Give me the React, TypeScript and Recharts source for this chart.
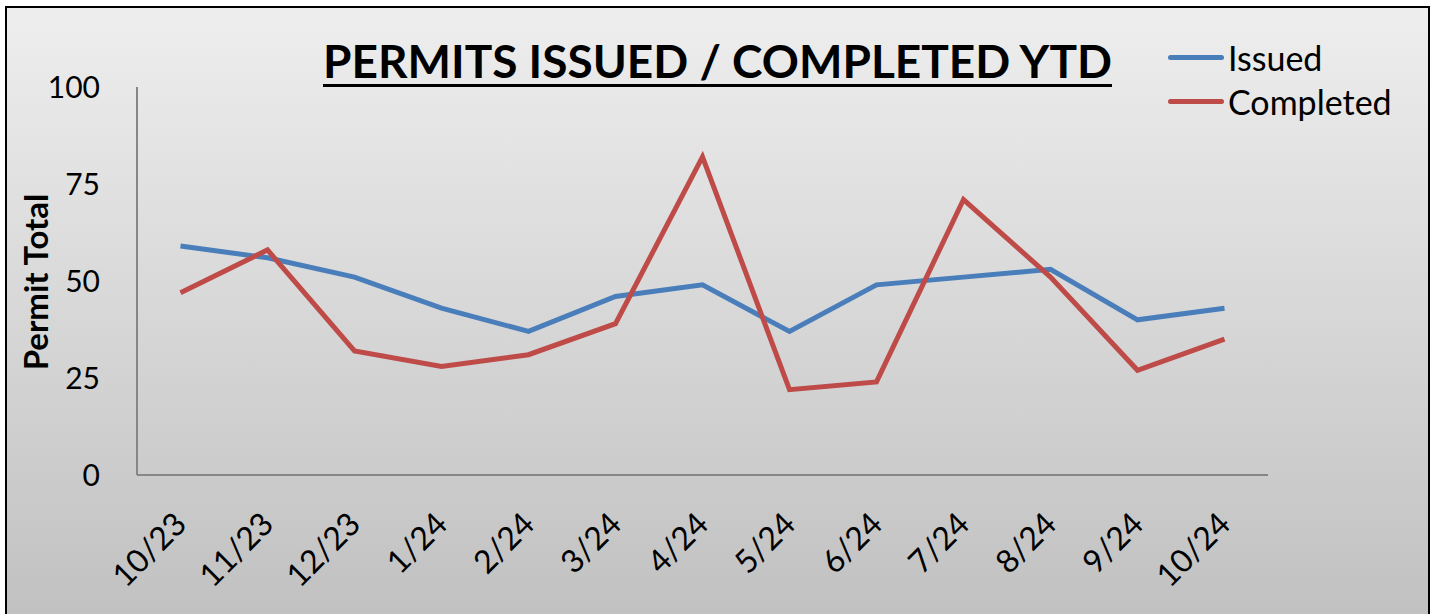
import { LineChart, Line, XAxis, YAxis } from "recharts";

const months = ["10/23", "11/23", "12/23", "1/24", "2/24", "3/24", "4/24", "5/24", "6/24", "7/24", "8/24", "9/24", "10/24"];
const issued = [59, 56, 51, 43, 37, 46, 49, 37, 49, 51, 53, 40, 43];
const completed = [47, 58, 32, 28, 31, 39, 82, 22, 24, 71, 51, 27, 35];
const yTicks = [0, 25, 50, 75, 100];

const data = months.map((m, i) => ({ month: m, Issued: issued[i], Completed: completed[i] }));

const FONT = "Lato, 'Open Sans', sans-serif";
const BLUE = "#4a7ebb";
const RED = "#be4b48";

const XTick = (props: any) => {
  const { x, y, payload } = props;
  const tx = x + 8;
  const ty = y + 49;
  return (
    <text x={tx} y={ty} transform={`rotate(-45 ${tx} ${ty})`} textAnchor="end" fontSize={32} fill="#000" fontFamily={FONT}>
      {payload.value}
    </text>
  );
};

const legendItems = [
  { name: "Issued", color: BLUE },
  { name: "Completed", color: RED },
];

export default function App() {
  return (
    <div style={{ position: "absolute", left: 0, top: 0, width: 1435, height: 614, overflow: "hidden", background: "#fff" }}>
      <div
        style={{
          position: "absolute",
          left: 5,
          top: 6,
          width: 1421,
          height: 620,
          border: "2px solid #000",
          background: "linear-gradient(#eeeeee, #c0c0c0)",
        }}
      />
      <div style={{ position: "absolute", left: 0, width: 1435, top: 33, textAlign: "center" }}>
        <span
          style={{
            fontFamily: FONT,
            fontWeight: 700,
            fontSize: 46,
            textDecoration: "underline",
            textDecorationThickness: 3,
            textUnderlineOffset: 6,
            color: "#000",
          }}
        >
          PERMITS ISSUED / COMPLETED YTD
        </span>
      </div>
      <div
        style={{
          position: "absolute",
          left: 35,
          top: 282,
          transform: "translate(-50%, -50%) rotate(-90deg)",
          fontFamily: FONT,
          fontWeight: 700,
          fontSize: 33,
          whiteSpace: "nowrap",
          color: "#000",
        }}
      >
        Permit Total
      </div>
      <div style={{ position: "absolute", left: 1168, top: 35, fontFamily: FONT, fontSize: 34, color: "#000" }}>
        {legendItems.map((r) => (
          <div key={r.name} style={{ display: "flex", alignItems: "center", height: 44 }}>
            <div style={{ width: 56, height: 5, borderRadius: 3, background: r.color, marginRight: 4 }} />
            <span>{r.name}</span>
          </div>
        ))}
      </div>
      <div style={{ position: "absolute", left: 0, top: 0 }}>
        <LineChart width={1435} height={614} data={data} margin={{ top: 87, right: 167, left: 0, bottom: 0 }}>
          <XAxis
            dataKey="month"
            height={139}
            padding={{ left: 43.5, right: 43.5 }}
            axisLine={{ stroke: "#868686", strokeWidth: 2 }}
            tickLine={false}
            tickSize={0}
            tick={<XTick />}
            interval={0}
          />
          <YAxis
            width={137}
            domain={[0, 100]}
            ticks={yTicks}
            axisLine={{ stroke: "#868686", strokeWidth: 2 }}
            tickLine={false}
            tickSize={0}
            tickMargin={37}
            tick={{ fontSize: 30, fill: "#000", fontFamily: FONT }}
          />
          <Line type="linear" dataKey="Issued" stroke={BLUE} strokeWidth={5} dot={false} isAnimationActive={false} />
          <Line type="linear" dataKey="Completed" stroke={RED} strokeWidth={5} dot={false} isAnimationActive={false} />
        </LineChart>
      </div>
    </div>
  );
}
